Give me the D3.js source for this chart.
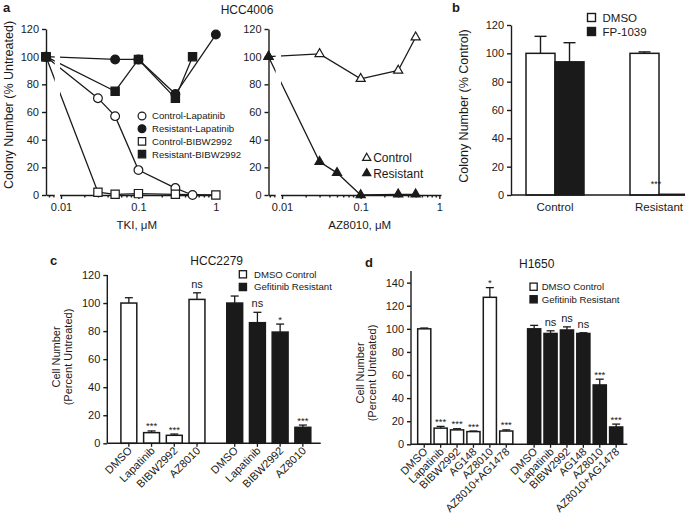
<!DOCTYPE html>
<html>
<head>
<meta charset="utf-8">
<script src="https://cdn.jsdelivr.net/npm/d3@7"></script>
<style>
  body { margin: 0; background: #fff; }
  text { font-family: "Liberation Sans", Arial, sans-serif; fill: #1a1a1a; }
  .axis path, .axis line { stroke: #1a1a1a; stroke-width: 1.4; }
</style>
</head>
<body>
<div id="my_dataviz"></div>
<script>

// ---- panel a (left): TKI dose response, HCC4006
var tkiDoses = [0, 0.03, 0.05, 0.1, 0.3, 0.5, 1];
var controlLapatinib = [100, 70, 57, 18, 5, 0, null];
var resistantLapatinib = [100, null, 98, 98, 73, null, 116];
var controlBIBW = [100, 2, 0.5, 1, 0.5, null, 0];
var resistantBIBW = [100, null, 75, 98, 70, 100, null];

// ---- panel a (right): AZ8010 dose response
var azDoses = [0, 0.03, 0.05, 0.1, 0.3, 0.5];
var azControl = [100, 102, null, 84, 90, 114];
var azResistant = [100, 24, 16, 0, 0.5, 0.5];

var doseTicks = [0.01, 0.1, 1];
var doseTickLabels = ["0.01", "0.1", "1"];
var minorDoseTicks = [0.007, 0.008, 0.009, 0.02, 0.03, 0.04, 0.05, 0.06, 0.07, 0.08, 0.09,
                      0.2, 0.3, 0.4, 0.5, 0.6, 0.7, 0.8, 0.9];

// ---- panel b: FP-1039
var bGroups = ["Control", "Resistant"];
var bTreatments = ["DMSO", "FP-1039"];
var bDMSO = [100, 100];
var bDMSOErr = [12, 1];
var bFP = [94, 0.5];
var bFPErr = [13.5, 0];
var bSig = ["", "***"];

// ---- panel c: HCC2279
var cDrugs = ["DMSO", "Lapatinib", "BIBW2992", "AZ8010"];
var cControl = [100, 7.6, 5.7, 102.6];
var cControlErr = [3.8, 1.2, 0.9, 4.7];
var cControlSig = ["", "***", "***", "ns"];
var cResistant = [100, 86, 79.3, 11.4];
var cResistantErr = [5, 7.4, 5.7, 1.6];
var cResistantSig = ["", "ns", "*", "***"];

// ---- panel d: H1650
var dDrugs = ["DMSO", "Lapatinib", "BIBW2992", "AG148", "AZ8010", "AZ8010+AG1478"];
var dControl = [100, 14, 12.5, 11, 127.3, 11.5];
var dControlErr = [0.7, 1.5, 1, 0.5, 8.4, 1];
var dControlSig = ["", "***", "***", "***", "*", "***"];
var dResistant = [100, 96, 99, 96, 51.4, 15];
var dResistantErr = [3, 2.3, 2.7, 0.6, 5, 2.5];
var dResistantSig = ["", "ns", "ns", "ns", "***", "***"];

var groupNames = ["DMSO Control", "Gefitinib Resistant"];

var ink = "#1a1a1a";

var svg = d3.select("#my_dataviz")
  .append("svg")
    .attr("width", 685)
    .attr("height", 519);

function txt(x, y, s, size, anchor, weight) {
  return svg.append("text")
    .attr("x", x).attr("y", y)
    .attr("font-size", size)
    .attr("text-anchor", anchor || "start")
    .attr("font-weight", weight || "normal")
    .text(s);
}

function styleAxis(g, fontSize) {
  g.attr("class", "axis");
  g.selectAll("text").attr("font-size", fontSize).attr("fill", ink)
    .attr("font-family", "Liberation Sans, Arial, sans-serif");
}

// dose response chart with a broken log axis (untreated plotted at the axis)
function doseChart(cfg) {
  var x = d3.scaleLog().domain(cfg.domain).range(cfg.xRange);
  var y = d3.scaleLinear().domain([0, 120]).range([195, 29]);
  var xpos = function(d) { return d === 0 ? x.range()[0] : x(d); };
  var g = svg.append("g");

  // y axis
  g.append("g")
    .attr("transform", "translate(" + cfg.xRange[0] + ",0)")
    .call(d3.axisLeft(y).tickValues(d3.range(0, 121, 20)).tickSize(4).tickSizeOuter(0).tickPadding(3))
    .call(styleAxis, 11);

  // x axis: major and minor ticks
  g.append("g")
    .attr("transform", "translate(0," + y(0) + ")")
    .call(d3.axisBottom(x).tickValues(minorDoseTicks).tickSize(2.5).tickSizeOuter(0).tickFormat(""))
    .call(styleAxis, 11);
  g.append("g")
    .attr("transform", "translate(0," + y(0) + ")")
    .call(d3.axisBottom(x).tickValues(doseTicks).tickSize(4).tickSizeOuter(0).tickPadding(4)
      .tickFormat(function(d, i) { return doseTickLabels[i]; }))
    .call(styleAxis, 11)
    .call(function(a) { a.select(".domain").remove(); });

  var line = d3.line()
    .x(function(d) { return xpos(d.dose); })
    .y(function(d) { return y(d.v); });

  cfg.series.forEach(function(s) {
    s.pts = cfg.doses.map(function(d, i) { return { dose: d, v: s.values[i] }; })
      .filter(function(p) { return p.v !== null; });
    g.append("path")
      .datum(s.pts)
      .attr("d", line)
      .attr("fill", "none")
      .attr("stroke", ink)
      .attr("stroke-width", 1.3);
  });

  // axis break gap
  g.append("rect")
    .attr("x", x(0.0083))
    .attr("y", y(120) - 4)
    .attr("width", x(0.0097) - x(0.0083))
    .attr("height", y(0) - y(120) + 10)
    .attr("fill", "#fff");

  cfg.series.forEach(function(s) {
    g.selectAll(null)
      .data(s.pts)
      .enter().append("path")
        .attr("d", d3.symbol().type(s.shape).size(s.size))
        .attr("transform", function(d) { return "translate(" + xpos(d.dose) + "," + y(d.v) + ")"; })
        .attr("fill", s.filled ? ink : "#fff")
        .attr("stroke", ink)
        .attr("stroke-width", 1.2);
  });

  // legend
  cfg.series.forEach(function(s, i) {
    var ly = cfg.legend.y + i * cfg.legend.step;
    g.append("path")
      .attr("d", d3.symbol().type(s.shape).size(s.size * 0.8))
      .attr("transform", "translate(" + cfg.legend.x + "," + ly + ")")
      .attr("fill", s.filled ? ink : "#fff")
      .attr("stroke", ink)
      .attr("stroke-width", 1.2);
    txt(cfg.legend.x + cfg.legend.dx, ly + cfg.legend.size * 0.36, s.name, cfg.legend.size);
  });

  txt((cfg.xRange[0] + cfg.xRange[1]) / 2 + 5, 229, cfg.title, 11.5, "middle");
}

doseChart({
  domain: [0.0064, 1.05], xRange: [46, 217.5], doses: tkiDoses,
  title: "TKI, \u03bcM",
  legend: { x: 142, y: 116, step: 12.7, dx: 10, size: 9.6 },
  series: [
    { name: "Control-Lapatinib", values: controlLapatinib, shape: d3.symbolCircle, size: 60, filled: false },
    { name: "Resistant-Lapatinib", values: resistantLapatinib, shape: d3.symbolCircle, size: 60, filled: true },
    { name: "Control-BIBW2992", values: controlBIBW, shape: d3.symbolSquare, size: 68, filled: false },
    { name: "Resistant-BIBW2992", values: resistantBIBW, shape: d3.symbolSquare, size: 68, filled: true }
  ]
});

doseChart({
  domain: [0.00673, 1.05], xRange: [268.5, 441], doses: azDoses,
  title: "AZ8010, \u03bcM",
  legend: { x: 366.7, y: 158, step: 15.3, dx: 6.5, size: 12 },
  series: [
    { name: "Control", values: azControl, shape: d3.symbolTriangle, size: 36, filled: false },
    { name: "Resistant", values: azResistant, shape: d3.symbolTriangle, size: 36, filled: true }
  ]
});

txt(3, 12, "a", 13, "start", "bold");
txt(247, 14, "HCC4006", 12, "middle");
txt(0, 0, "Colony Number (% Untreated)", 12.5, "middle")
  .attr("transform", "translate(12.5,105) rotate(-90)");

// ---- panel b
(function() {
  var y = d3.scaleLinear().domain([0, 120]).range([195, 25]);
  var x0 = d3.scaleBand().domain(bGroups).range([503, 711]);
  var x1 = d3.scaleBand().domain(bTreatments).range([0, x0.bandwidth()]).paddingInner(0).paddingOuter(0.793);
  var g = svg.append("g");
  var axisX = 511;

  var bars = [];
  bGroups.forEach(function(grp, i) {
    bars.push({ grp: grp, t: "DMSO", v: bDMSO[i], e: bDMSOErr[i] });
    bars.push({ grp: grp, t: "FP-1039", v: bFP[i], e: bFPErr[i] });
  });

  // error bars (upper only)
  bars.forEach(function(b) {
    if (b.e <= 0) return;
    var cx = x0(b.grp) + x1(b.t) + x1.bandwidth() / 2;
    g.append("line").attr("x1", cx).attr("x2", cx).attr("y1", y(b.v)).attr("y2", y(b.v + b.e))
      .attr("stroke", ink).attr("stroke-width", 1.4);
    g.append("line").attr("x1", cx - 6).attr("x2", cx + 6).attr("y1", y(b.v + b.e)).attr("y2", y(b.v + b.e))
      .attr("stroke", ink).attr("stroke-width", 1.4);
  });

  g.selectAll("rect.bar")
    .data(bars)
    .enter().append("rect")
      .attr("x", function(d) { return x0(d.grp) + x1(d.t); })
      .attr("y", function(d) { return y(d.v); })
      .attr("width", x1.bandwidth())
      .attr("height", function(d) { return y(0) - y(d.v); })
      .attr("fill", function(d) { return d.t === "DMSO" ? "#fff" : ink; })
      .attr("stroke", ink)
      .attr("stroke-width", 1.5);

  g.append("g")
    .attr("transform", "translate(" + axisX + ",0)")
    .call(d3.axisLeft(y).tickValues(d3.range(0, 121, 20)).tickSize(4).tickSizeOuter(0).tickPadding(3))
    .call(styleAxis, 11);

  g.append("line").attr("x1", axisX).attr("x2", 685).attr("y1", y(0)).attr("y2", y(0))
    .attr("stroke", ink).attr("stroke-width", 1.4);

  bGroups.forEach(function(grp, i) {
    txt(x0(grp) + x0.bandwidth() / 2, 211, grp, 11.5, "middle");
    if (bSig[i]) txt(656, y(bFP[i]) - 7, bSig[i], 9, "middle");
  });

  // legend
  bTreatments.forEach(function(t, i) {
    var ly = 17.5 + i * 14;
    g.append("rect").attr("x", 587.5).attr("y", ly - 4).attr("width", 8).attr("height", 8)
      .attr("fill", i === 0 ? "#fff" : ink).attr("stroke", ink).attr("stroke-width", 1.4);
    txt(602.5, ly + 4.2, t, 11.5);
  });

  txt(452, 12, "b", 13, "start", "bold");
  txt(0, 0, "Colony Number (% Control)", 12.5, "middle")
    .attr("transform", "translate(467.5,106) rotate(-90)");
})();

// ---- grouped bar panels c and d
function barPanel(cfg) {
  var y = d3.scaleLinear().domain([0, cfg.yMax]).range([cfg.y0, cfg.yTop]);
  var x0 = d3.scaleBand().domain(groupNames).range(cfg.outer);
  var x1 = d3.scaleBand().domain(cfg.drugs).range([0, x0.bandwidth()])
    .paddingInner(cfg.pi).paddingOuter(cfg.po);
  var g = svg.append("g");

  var bars = [];
  cfg.drugs.forEach(function(d, i) {
    bars.push({ grp: groupNames[0], drug: d, v: cfg.control[i], e: cfg.controlErr[i], sig: cfg.controlSig[i] });
  });
  cfg.drugs.forEach(function(d, i) {
    bars.push({ grp: groupNames[1], drug: d, v: cfg.resistant[i], e: cfg.resistantErr[i], sig: cfg.resistantSig[i] });
  });
  bars.forEach(function(b) { b.cx = x0(b.grp) + x1(b.drug) + x1.bandwidth() / 2; });

  // error bars
  bars.forEach(function(b) {
    g.append("line").attr("x1", b.cx).attr("x2", b.cx).attr("y1", y(b.v)).attr("y2", y(b.v + b.e))
      .attr("stroke", ink).attr("stroke-width", 1.3);
    g.append("line").attr("x1", b.cx - 4).attr("x2", b.cx + 4).attr("y1", y(b.v + b.e)).attr("y2", y(b.v + b.e))
      .attr("stroke", ink).attr("stroke-width", 1.3);
  });

  g.selectAll("rect.bar")
    .data(bars)
    .enter().append("rect")
      .attr("x", function(d) { return d.cx - x1.bandwidth() / 2; })
      .attr("y", function(d) { return y(d.v); })
      .attr("width", x1.bandwidth())
      .attr("height", function(d) { return y(0) - y(d.v); })
      .attr("fill", function(d) { return d.grp === groupNames[0] ? "#fff" : ink; })
      .attr("stroke", ink)
      .attr("stroke-width", 1.5);

  // significance marks
  bars.forEach(function(b) {
    if (!b.sig) return;
    var top = y(b.v + b.e);
    if (b.sig === "ns") txt(b.cx, top - 5, "ns", 11, "middle");
    else txt(b.cx, top - 1.5, b.sig, 9.5, "middle");
  });

  // axes
  g.append("g")
    .attr("transform", "translate(" + cfg.axisX + ",0)")
    .call(d3.axisLeft(y).tickValues(cfg.yTicks).tickSize(4).tickSizeOuter(0).tickPadding(3))
    .call(styleAxis, 11)
    .call(function(a) { a.select(".domain").attr("d", "M0," + y(cfg.yMax) + "V" + y(0)); });

  g.append("line").attr("x1", cfg.axisX).attr("x2", cfg.axisEnd).attr("y1", y(0)).attr("y2", y(0))
    .attr("stroke", ink).attr("stroke-width", 1.4);

  bars.forEach(function(b) {
    g.append("line").attr("x1", b.cx).attr("x2", b.cx).attr("y1", y(0)).attr("y2", y(0) + 3.5)
      .attr("stroke", ink).attr("stroke-width", 1.3);
    txt(0, 0, b.drug, 11, "end")
      .attr("transform", "translate(" + (b.cx + 4) + "," + (y(0) + 8) + ") rotate(-45)");
  });

  // legend
  groupNames.forEach(function(n, i) {
    var ly = cfg.legend.y + i * cfg.legend.step;
    g.append("rect").attr("x", cfg.legend.x).attr("y", ly - 3.6).attr("width", 7.2).attr("height", 7.2)
      .attr("fill", i === 0 ? "#fff" : ink).attr("stroke", ink).attr("stroke-width", 1.3);
    txt(cfg.legend.tx, ly + 3.4, n, 9.6);
  });

  txt(cfg.titleX, cfg.titleY, cfg.title, 12, "middle");
  txt(cfg.letterX, cfg.letterY, cfg.letter, 13, "start", "bold");
  txt(0, 0, "Cell Number", 11, "middle")
    .attr("transform", "translate(" + cfg.labX + "," + cfg.labY + ") rotate(-90)");
  txt(0, 0, "(Percent Untreated)", 11, "middle")
    .attr("transform", "translate(" + (cfg.labX + 11.5) + "," + cfg.labY + ") rotate(-90)");
}

barPanel({
  drugs: cDrugs, control: cControl, controlErr: cControlErr, controlSig: cControlSig,
  resistant: cResistant, resistantErr: cResistantErr, resistantSig: cResistantSig,
  yMax: 120, yTicks: d3.range(0, 121, 20), y0: 443.3, yTop: 275,
  outer: [110, 321.7], pi: 0.3, po: 0.48, axisX: 107.3, axisEnd: 320.7,
  legend: { x: 239.3, y: 274.3, step: 12.7, tx: 254 },
  title: "HCC2279", titleX: 216.7, titleY: 265,
  letter: "c", letterX: 50, letterY: 265,
  labX: 60, labY: 357
});

barPanel({
  drugs: dDrugs, control: dControl, controlErr: dControlErr, controlSig: dControlSig,
  resistant: dResistant, resistantErr: dResistantErr, resistantSig: dResistantSig,
  yMax: 150, yTicks: d3.range(0, 141, 20), y0: 444.3, yTop: 271.1,
  outer: [410.3, 630.1], pi: 0.2, po: 0.45, axisX: 411, axisEnd: 627.3,
  legend: { x: 530, y: 286.7, step: 12.6, tx: 541.7 },
  title: "H1650", titleX: 536.7, titleY: 267.5,
  letter: "d", letterX: 365, letterY: 267,
  labX: 364, labY: 373
});

</script>
</body>
</html>
